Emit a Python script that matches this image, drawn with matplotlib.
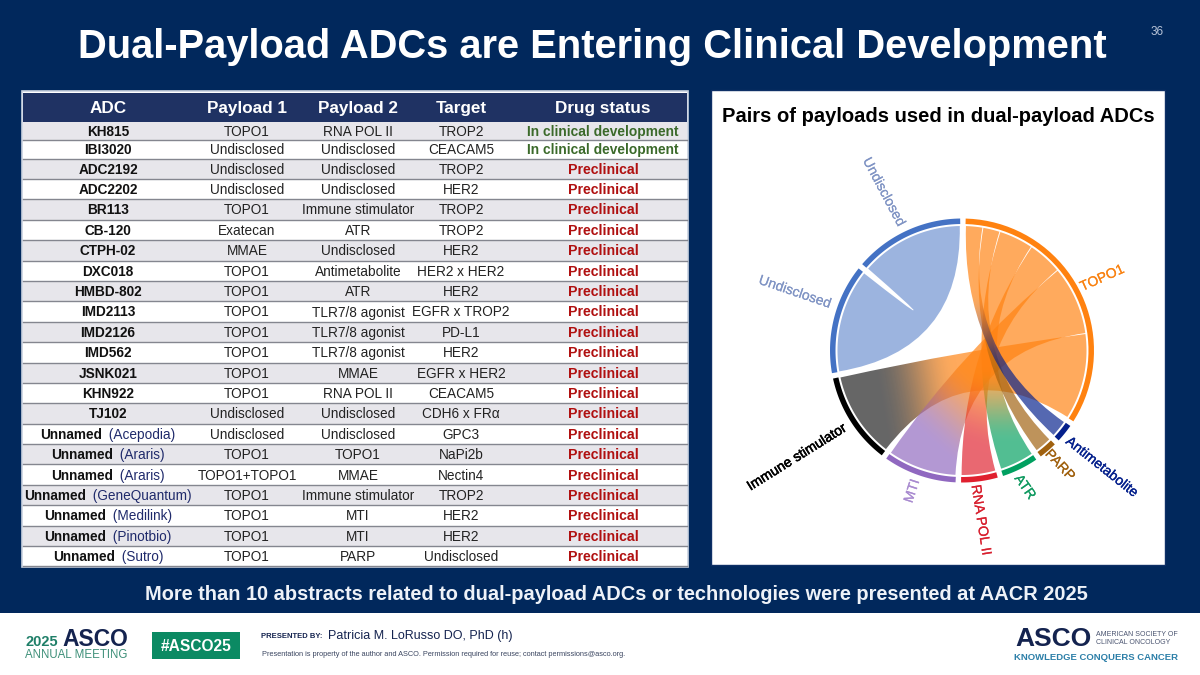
import numpy as np
import matplotlib
matplotlib.use("Agg")
import matplotlib.pyplot as plt
import matplotlib.patheffects as pe
from matplotlib.patches import Rectangle, PathPatch
from matplotlib.path import Path

plt.rcParams['font.family'] = ['Liberation Sans', 'DejaVu Sans']

# ---------- data ----------
title = "Dual-Payload ADCs are Entering Clinical Development"
headers = ["ADC", "Payload 1", "Payload 2", "Target", "Drug status"]
adc = ["KH815", "IBI3020", "ADC2192", "ADC2202", "BR113", "CB-120", "CTPH-02", "DXC018",
       "HMBD-802", "IMD2113", "IMD2126", "IMD562", "JSNK021", "KHN922", "TJ102",
       "Unnamed", "Unnamed", "Unnamed", "Unnamed", "Unnamed", "Unnamed", "Unnamed"]
adc_source = ["", "", "", "", "", "", "", "", "", "", "", "", "", "", "",
              "(Acepodia)", "(Araris)", "(Araris)", "(GeneQuantum)", "(Medilink)", "(Pinotbio)", "(Sutro)"]
payload1 = ["TOPO1", "Undisclosed", "Undisclosed", "Undisclosed", "TOPO1", "Exatecan", "MMAE", "TOPO1",
            "TOPO1", "TOPO1", "TOPO1", "TOPO1", "TOPO1", "TOPO1", "Undisclosed",
            "Undisclosed", "TOPO1", "TOPO1+TOPO1", "TOPO1", "TOPO1", "TOPO1", "TOPO1"]
payload2 = ["RNA POL II", "Undisclosed", "Undisclosed", "Undisclosed", "Immune stimulator", "ATR", "Undisclosed",
            "Antimetabolite", "ATR", "TLR7/8 agonist", "TLR7/8 agonist", "TLR7/8 agonist", "MMAE", "RNA POL II",
            "Undisclosed", "Undisclosed", "TOPO1", "MMAE", "Immune stimulator", "MTI", "MTI", "PARP"]
target = ["TROP2", "CEACAM5", "TROP2", "HER2", "TROP2", "TROP2", "HER2", "HER2 x HER2", "HER2",
          "EGFR x TROP2", "PD-L1", "HER2", "EGFR x HER2", "CEACAM5", "CDH6 x FR\u03b1", "GPC3",
          "NaPi2b", "Nectin4", "TROP2", "HER2", "HER2", "Undisclosed"]
status = ["In clinical development"] * 2 + ["Preclinical"] * 20

sector_names = ["TOPO1", "Antimetabolite", "PARP", "ATR", "RNA POL II", "MTI",
                "Immune stimulator", "Undisclosed", "Undisclosed"]
sector_weights = [15, 1, 1, 2, 2, 4, 5, 6, 6]
# TOPO1 sub-segment order (clockwise) and its partner sector index
topo_link_partner = [1, 2, 3, 4, 5, 6]
topo_link_weight = [1, 1, 2, 2, 4, 5]

# ---------- styles ----------
NAVY = "#01285C"
ring_colors = ["#FF8210", "#04208C", "#A0610F", "#00A060", "#E0202F", "#9068C0", "#000000", "#4472C4", "#4472C4"]
label_colors = ["#F98212", "#04208C", "#A0610F", "#109A60", "#D8202F", "#A98BD0", "#000000", "#8094C4", "#8094C4"]
label_pos = [(1102, 278), (1102, 467), (1060, 465), (1025, 487), (981, 520), (912, 491), (797, 457), (795, 292), (884, 192)]
label_rot = [24, -38.5, -47, -55, -81, 72, 32, -19, -62]
label_stroke = [0.15, 0.25, 0.15, 0.15, 0.15, 0.15, 0.4, 0.1, 0.1]
grad_band = {1: (0.35, 0.72), 2: (0.32, 0.68), 3: (0.08, 0.42), 4: (0.10, 0.44), 5: (0.10, 0.46), 6: (0.10, 0.46)}
CX, CY, R_OUT, R_IN, R_RIB = 962.0, 350.5, 132.0, 126.5, 124.5
GAP, START = 2.4, 1.6
RIB_ALPHA = 0.68

fig = plt.figure(figsize=(12, 6.75), dpi=100, facecolor=NAVY)
ax = fig.add_axes([0, 0, 1, 1])
ax.set_xlim(0, 1200)
ax.set_ylim(675, 0)
ax.axis("off")

ax.add_patch(Rectangle((0, 613), 1200, 62, fc="white", ec="none", zorder=1))

ax.text(592, 47, title, color="white", fontsize=28.7, fontweight="bold", ha="center", va="center")
ax.text(1157, 32, "36", color="#B8C4D8", fontsize=8.5, ha="center", va="center")
ax.text(616, 594.5, "More than 10 abstracts related to dual-payload ADCs or technologies were presented at AACR 2025",
        color="#EEF2F8", fontsize=14.4, fontweight="bold", ha="center", va="center")

# ---------- table ----------
col_x = [108, 247, 358, 461, 603]
ax.add_patch(Rectangle((22, 91), 666, 475.5, fc="white", ec="#C9D2E0", lw=1.2, zorder=2))
ax.add_patch(Rectangle((23, 93), 664, 28.5, fc="#1F3263", ec="none", zorder=3))
for x, h in zip(col_x, headers):
    ax.text(x, 113, h, color="white", fontsize=12.3, fontweight="bold", ha="center",
            va="baseline", zorder=5)

fig.canvas.draw()
rend = fig.canvas.get_renderer()
tops = 121.5 + np.cumsum([0, 18.5, 18.5] + [20.4] * 20)
for i in range(len(adc)):
    y0, y1 = tops[i], tops[i + 1]
    ym = (y0 + y1) / 2 + 5
    ax.add_patch(Rectangle((23, y0), 664, y1 - y0, fc="#E7E6EB" if i % 2 == 0 else "white", ec="none", zorder=3))
    ax.plot([23, 687], [y1, y1], color="#84868F", lw=1.0, zorder=4)
    bold = ax.text(col_x[0], ym, adc[i], color="#111111", fontsize=9.8, fontweight="bold",
                   ha="center", va="baseline", zorder=5)
    if adc_source[i]:
        src = ax.text(col_x[0], ym, " " + adc_source[i], color="#1F2A6B", fontsize=9.8,
                      ha="left", va="baseline", zorder=5)
        wb = bold.get_window_extent(rend).width
        ws = src.get_window_extent(rend).width + 3
        left = col_x[0] - (wb + ws) / 2
        bold.set_ha("left")
        bold.set_x(left)
        src.set_x(left + wb + 3)
    for x, vals in zip(col_x[1:4], (payload1, payload2, target)):
        ax.text(x, ym, vals[i], color="#222222", fontsize=9.8, ha="center", va="baseline", zorder=5)
    is_clin = status[i].startswith("In")
    ax.text(col_x[4], ym, status[i], color="#3B6A2A" if is_clin else "#B01010",
            fontsize=9.9 if is_clin else 10.2, fontweight="bold", ha="center", va="baseline", zorder=5)

# ---------- chord panel ----------
ax.add_patch(Rectangle((711, 90), 454, 475, fc="white", ec="#0E2F66", lw=1, zorder=2))
ax.text(938, 116, "Pairs of payloads used in dual-payload ADCs", color="black", fontsize=14.5,
        fontweight="bold", ha="center", va="center", zorder=5)


def polar(a, r):
    t = np.deg2rad(a)
    return CX + r * np.sin(t), CY - r * np.cos(t)


def arc(a0, a1, r):
    ts = np.linspace(a0, a1, 40)
    return list(zip(*polar(ts, r)))


unit = (360 - GAP * len(sector_weights)) / sum(sector_weights)
starts = []
cur = START
for w in sector_weights:
    starts.append(cur)
    cur += w * unit + GAP

for s, w, c, name, lc, pos, rot, st in zip(starts, sector_weights, ring_colors, sector_names,
                                           label_colors, label_pos, label_rot, label_stroke):
    a1 = s + w * unit
    pts = arc(s, a1, R_OUT) + arc(a1, s, R_IN)
    ax.add_patch(plt.Polygon(pts, closed=True, fc=c, ec="none", zorder=6))
    ax.text(pos[0], pos[1], name, color=lc, fontsize=10, rotation=rot, rotation_mode="anchor",
            ha="center", va="center", zorder=7,
            path_effects=[pe.withStroke(linewidth=st, foreground=lc)])


def ribbon(a0, a1, b0, b1):
    v = arc(a0, a1, R_RIB)
    w = arc(b0, b1, R_RIB)
    verts = v + [(CX, CY), w[0]] + w[1:] + [(CX, CY), v[0], v[0]]
    codes = ([Path.MOVETO] + [Path.LINETO] * (len(v) - 1) + [Path.CURVE3, Path.CURVE3]
             + [Path.LINETO] * (len(w) - 1) + [Path.CURVE3, Path.CURVE3, Path.CLOSEPOLY])
    return Path(verts, codes)


def hex_rgb(c):
    return np.array(matplotlib.colors.to_rgb(c))


PAD = 0.22
# self link between the two Undisclosed sectors
s7, s8 = starts[7], starts[8]
u_path = ribbon(s8 + PAD, s8 + 6 * unit - PAD, s7 + PAD, s7 + 6 * unit - PAD)
ax.add_patch(PathPatch(u_path, fc="#4472C4", alpha=0.53, ec="none", zorder=5))

a_cur = starts[0]
segs = []
for p, w in zip(topo_link_partner, topo_link_weight):
    segs.append((p, a_cur, a_cur + w * unit))
    a_cur += w * unit

topo = hex_rgb(ring_colors[0])
for p, a0, a1 in reversed(segs):
    b0, b1 = starts[p], starts[p] + sector_weights[p] * unit
    path = ribbon(a0 + PAD, a1 - PAD, b0 + PAD, b1 - PAD)
    px, py = polar((b0 + b1) / 2, R_RIB)
    qx, qy = polar((a0 + a1) / 2, R_RIB)
    xs = np.arange(CX - R_RIB - 2, CX + R_RIB + 2, 0.5)
    ys = np.arange(CY - R_RIB - 2, CY + R_RIB + 2, 0.5)
    gx, gy = np.meshgrid(xs, ys)
    d = np.array([qx - px, qy - py])
    s = ((gx - px) * d[0] + (gy - py) * d[1]) / (d @ d)
    lo, hi = grad_band[p]
    t = np.clip((s - lo) / (hi - lo), 0, 1)
    t = t * t * (3 - 2 * t)
    base = hex_rgb(ring_colors[p])
    img = np.zeros(gx.shape + (4,))
    for k in range(3):
        img[..., k] = base[k] * (1 - t) + topo[k] * t
    base_alpha = 0.6 if p == 6 else RIB_ALPHA
    img[..., 3] = base_alpha * (1 - t) + RIB_ALPHA * t
    im = ax.imshow(img, extent=(xs[0], xs[-1], ys[-1], ys[0]), origin="upper", aspect="auto",
                   interpolation="bilinear", zorder=5)
    patch = PathPatch(path, transform=ax.transData, fc="none", ec="none")
    im.set_clip_path(patch)
ax.set_xlim(0, 1200)
ax.set_ylim(675, 0)

# ---------- footer ----------
DK = "#14234F"
TEAL = "#3E9079"
ax.text(25, 642, "2025", color="#1F7F68", fontsize=10.5, fontweight="bold", ha="left", va="center", zorder=5)
ax.text(62, 639, "ASCO", color=DK, fontsize=16.5, fontweight="bold", ha="left", va="center", zorder=5)
ax.text(25, 655.5, "ANNUAL MEETING", color=TEAL, fontsize=8.3, ha="left", va="center", zorder=5)
ax.add_patch(Rectangle((152, 632), 88, 27, fc="#0B8A63", ec="none", zorder=4))
ax.text(196, 646.5, "#ASCO25", color="white", fontsize=11.2, fontweight="bold", ha="center", va="center", zorder=5)
ax.text(261, 637, "PRESENTED BY:", color=DK, fontsize=5.5, fontweight="bold", ha="left", va="center", zorder=5)
ax.text(328, 635.5, "Patricia M. LoRusso DO, PhD (h)", color=DK, fontsize=9, ha="left", va="center", zorder=5)
ax.text(262, 655, "Presentation is property of the author and ASCO. Permission required for reuse; contact permissions@asco.org.",
        color="#3A4560", fontsize=5.33, ha="left", va="center", zorder=5)
ax.text(1015, 639, "ASCO", color=DK, fontsize=19, fontweight="bold", ha="left", va="center", zorder=5)
ax.text(1096, 634, "AMERICAN SOCIETY OF", color="#4A5470", fontsize=5, ha="left", va="center", zorder=5)
ax.text(1096, 642, "CLINICAL ONCOLOGY", color="#4A5470", fontsize=5, ha="left", va="center", zorder=5)
ax.text(1014, 657, "KNOWLEDGE CONQUERS CANCER", color="#2C7FA8", fontsize=6.8, fontweight="bold", ha="left", va="center", zorder=5)

fig.savefig("out.png", dpi=100, facecolor=NAVY)
